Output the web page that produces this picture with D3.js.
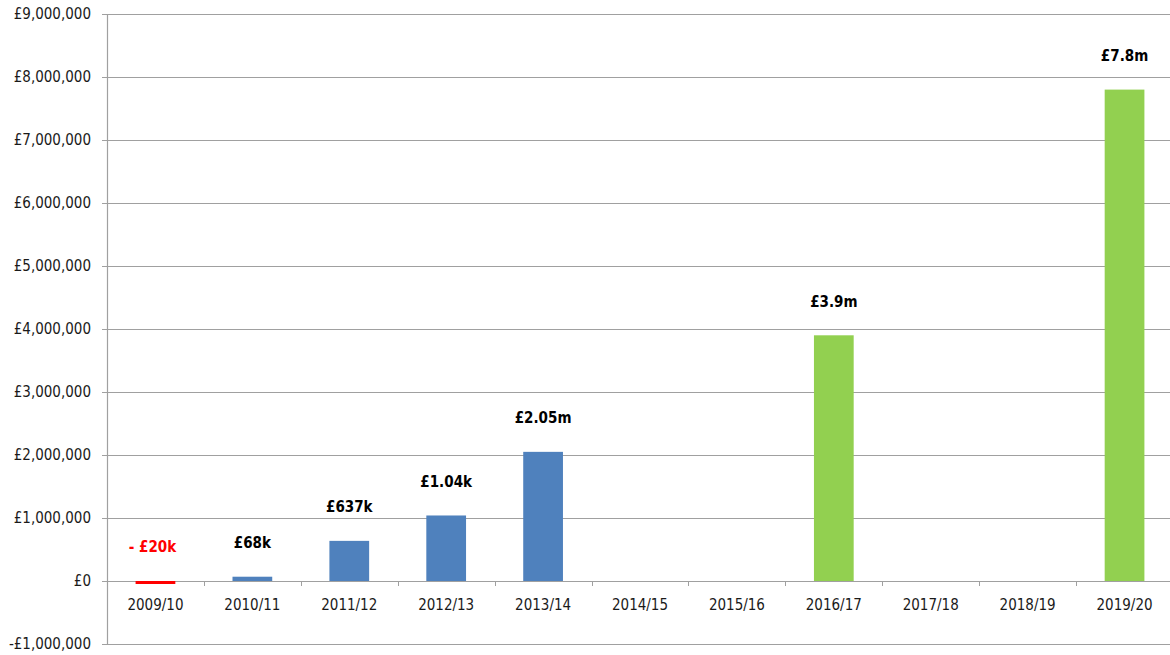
<!DOCTYPE html>
<html>
<head>
<meta charset="utf-8">
<script src="https://cdn.jsdelivr.net/npm/d3@7"></script>
<style>
  body { margin: 0; background: #fff; }
  svg text { font-family: Tahoma, "DejaVu Sans Condensed", "DejaVu Sans", sans-serif; }
</style>
</head>
<body>
<svg class="chart"></svg>
<script>
// data
let years = ['2009/10', '2010/11', '2011/12', '2012/13', '2013/14', '2014/15',
  '2015/16', '2016/17', '2017/18', '2018/19', '2019/20']
let amounts = [-20000, 68000, 637000, 1040000, 2050000, null, null, 3900000, null, null, 7800000]
let barLabels = ['- £20k', '£68k', '£637k', '£1.04k', '£2.05m', '', '', '£3.9m', '', '', '£7.8m']
let kinds = ['loss', 'actual', 'actual', 'actual', 'actual', '', '', 'target', '', '', 'target']
let yTicks = [-1000000, 0, 1000000, 2000000, 3000000, 4000000, 5000000, 6000000, 7000000, 8000000, 9000000]

let colours = { loss: '#ff0000', actual: '#4f81bd', target: '#92d050' }

let width = 1170
let height = 655

let svg = d3.select('.chart')
    .attr('width', width)
    .attr('height', height)

// plot area
let plotLeft = 107, plotRight = 1173, plotTop = 14, plotBottom = 644

let x = d3.scaleBand().domain(years).range([plotLeft, plotRight]).padding(0)
let y = d3.scaleLinear().domain([-1000000, 9000000]).range([plotBottom, plotTop])

let money = d => (d < 0 ? '-£' : '£') + d3.format(',')(Math.abs(d))

// gridlines + y labels
let yAxis = svg.append('g')
yAxis.selectAll('line')
    .data(yTicks)
    .enter().append('line')
    .attr('x1', plotLeft - 5)
    .attr('x2', width)
    .attr('y1', d => Math.round(y(d)) + 0.5)
    .attr('y2', d => Math.round(y(d)) + 0.5)
    .attr('stroke', '#a0a0a0')
    .attr('stroke-width', 1.2)

yAxis.selectAll('text')
    .data(yTicks)
    .enter().append('text')
    .attr('x', plotLeft - 16)
    .attr('y', d => y(d))
    .attr('dy', '0.36em')
    .attr('text-anchor', 'end')
    .attr('font-size', 15)
    .attr('fill', '#1a1a1a')
    .text(money)

// vertical axis line
svg.append('line')
    .attr('x1', plotLeft + 0.5).attr('x2', plotLeft + 0.5)
    .attr('y1', plotTop).attr('y2', plotBottom)
    .attr('stroke', '#a0a0a0')
    .attr('stroke-width', 1.2)

// category ticks on the zero line
svg.append('g').selectAll('line')
    .data(years.slice(1))
    .enter().append('line')
    .attr('x1', d => Math.round(x(d)) + 0.5)
    .attr('x2', d => Math.round(x(d)) + 0.5)
    .attr('y1', y(0))
    .attr('y2', y(0) + 5)
    .attr('stroke', '#a0a0a0')

// bars
let barW = x.bandwidth() * 0.41
let bars = years.map((d, i) => ({ year: d, value: amounts[i], label: barLabels[i], kind: kinds[i] }))
    .filter(d => d.value !== null)

svg.selectAll('.bar')
    .data(bars)
    .enter().append('rect')
    .attr('class', 'bar')
    .attr('x', d => x(d.year) + (x.bandwidth() - barW) / 2)
    .attr('y', d => y(Math.max(0, d.value)))
    .attr('width', barW)
    .attr('height', d => Math.max(3, Math.abs(y(d.value) - y(0))))
    .attr('fill', d => colours[d.kind])

// bar value labels
svg.selectAll('.lbl')
    .data(bars)
    .enter().append('text')
    .attr('class', 'lbl')
    .attr('x', d => x(d.year) + x.bandwidth() / 2 - (d.value < 0 ? 3 : 0))
    .attr('y', d => y(Math.max(0, d.value)) - 34)
    .attr('dy', '0.36em')
    .attr('text-anchor', 'middle')
    .attr('font-size', 15)
    .attr('font-weight', 'bold')
    .attr('fill', d => d.value < 0 ? '#ff0000' : '#000')
    .text(d => d.label)

// x labels
svg.append('g').selectAll('text')
    .data(years)
    .enter().append('text')
    .attr('x', d => x(d) + x.bandwidth() / 2)
    .attr('y', y(0) + 24)
    .attr('dy', '0.36em')
    .attr('text-anchor', 'middle')
    .attr('font-size', 15)
    .attr('fill', '#1a1a1a')
    .text(d => d)
</script>
</body>
</html>
